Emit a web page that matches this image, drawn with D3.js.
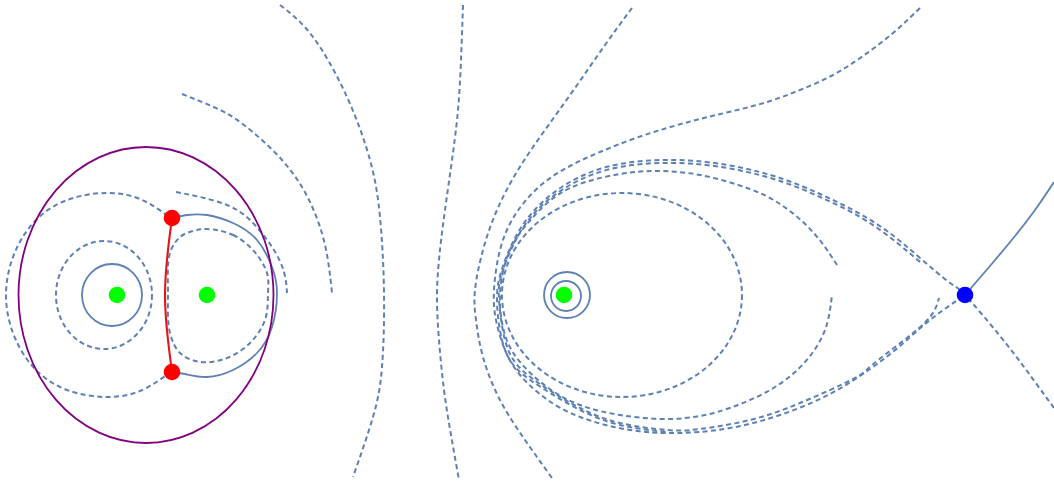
<!DOCTYPE html>
<html>
<head>
<meta charset="utf-8">
<script src="https://cdn.jsdelivr.net/npm/d3@7"></script>
<style>
  body { margin: 0; background: #fff; }
</style>
</head>
<body>
<div id="chart"></div>
<script>
// plot size, scales in model units (green body 1 at origin)
var w = 1054,
    h = 484,
    svg = d3.select("#chart").append("svg").attr("width", w).attr("height", h),
    x = d3.scaleLinear().domain([-1.17, 9.37]).range([0, w]),
    y = d3.scaleLinear().domain([-1.89, 2.95]).range([h, 0]);

// bodies and special points
var bodies = [[0, 0], [0.90, 0], [4.47, 0]];
var contactPoints = [[0.55, 0.77], [0.55, -0.77]];
var saddlePoint = [[8.48, 0]];

// closed level curves given as ellipses: [cx, cy, rx, ry]
var solidRings = [[-0.05, 0, 0.30, 0.31], [4.50, 0, 0.23, 0.23], [4.49, -0.01, 0.15, 0.15]];
var dashedRings = [[-0.13, 0, 0.48, 0.54], [5.05, 0, 1.20, 1.02]];
var boundaryRing = [[0.29, 0, 1.275, 1.48]];

// neck between the two contact points (red)
var neck = [[0.55, 0.77], [0.51, 0.45], [0.48, 0], [0.51, -0.45], [0.55, -0.77]];

// left lobe curves
var rightLobe = [[0.55, 0.77], [0.70, 0.80], [0.90, 0.80], [1.16, 0.72], [1.40, 0.55], [1.55, 0.28],
    [1.60, 0.02], [1.55, -0.32], [1.40, -0.58], [1.16, -0.75], [0.90, -0.82], [0.68, -0.79], [0.55, -0.77]];
var innerLobe = [[0.90, 0.66], [1.16, 0.60], [1.36, 0.45], [1.50, 0.22], [1.51, 0.02], [1.48, -0.25],
    [1.33, -0.48], [1.10, -0.63], [0.83, -0.67], [0.63, -0.58], [0.53, -0.38], [0.51, 0.02],
    [0.53, 0.42], [0.63, 0.58], [0.76, 0.64]];
var leftArc = [[0.51, 0.79], [0.23, 0.96], [-0.10, 1.02], [-0.47, 0.96], [-0.79, 0.77], [-1.02, 0.43],
    [-1.11, 0], [-1.02, -0.43], [-0.79, -0.77], [-0.47, -0.96], [-0.10, -1.02], [0.23, -0.96], [0.51, -0.79]];
var arc1 = [[0.59, 1.03], [0.83, 0.98], [1.10, 0.90], [1.33, 0.75], [1.55, 0.48], [1.67, 0.23], [1.70, 0.02]];
var arc2 = [[0.65, 2.01], [0.99, 1.87], [1.27, 1.70], [1.65, 1.35], [1.92, 0.95], [2.08, 0.50], [2.15, 0.02]];
var arc3 = [[1.63, 2.90], [1.96, 2.58], [2.30, 1.98], [2.53, 1.35], [2.63, 0.78], [2.67, 0.02],
    [2.65, -0.72], [2.56, -1.22], [2.36, -1.82]];
var arc4 = [[3.46, 2.90], [3.44, 2.35], [3.41, 1.85], [3.35, 1.35], [3.28, 0.85], [3.23, 0.45],
    [3.20, 0.02], [3.22, -0.45], [3.27, -0.95], [3.34, -1.40], [3.42, -1.85]];

// right side trajectories
var arc5 = [[5.15, 2.87], [4.88, 2.50], [4.58, 2.07], [4.28, 1.65], [4.01, 1.25], [3.80, 0.85],
    [3.66, 0.45], [3.58, 0.05], [3.59, -0.25], [3.66, -0.62], [3.83, -1.05], [4.08, -1.45], [4.35, -1.83]];
var spiral = [[7.20, 0.30], [7.05, 0.52], [6.86, 0.73], [6.63, 0.91], [6.33, 1.06], [5.83, 1.20],
    [5.40, 1.24], [5.03, 1.21], [4.53, 1.07], [4.18, 0.80], [3.93, 0.45], [3.83, 0], [3.88, -0.40],
    [4.03, -0.67], [4.30, -0.92], [4.63, -1.10], [5.03, -1.20], [5.50, -1.24], [6.00, -1.17],
    [6.53, -0.95], [6.88, -0.67], [7.08, -0.35], [7.15, 0]];
var traj1 = [[8.03, 2.87], [7.76, 2.62], [7.46, 2.39], [7.16, 2.20], [6.83, 2.05], [6.50, 1.93],
    [6.16, 1.84], [5.83, 1.76], [5.50, 1.67], [5.16, 1.56], [4.83, 1.43], [4.53, 1.29], [4.23, 1.09],
    [3.98, 0.80], [3.83, 0.45], [3.77, 0.05], [3.79, -0.25], [3.88, -0.55], [4.03, -0.80], [4.28, -1.03],
    [4.63, -1.22], [5.13, -1.35], [5.63, -1.38], [6.13, -1.33], [6.63, -1.20], [7.13, -0.99],
    [7.53, -0.74], [7.83, -0.51], [8.13, -0.25], [8.48, 0]];
var traj2 = [[8.03, 0.33], [7.70, 0.60], [7.36, 0.82], [7.03, 0.98], [6.66, 1.13], [6.16, 1.26],
    [5.60, 1.32], [5.03, 1.28], [4.53, 1.10], [4.10, 0.73], [3.86, 0.25], [3.82, -0.05], [3.88, -0.45],
    [4.03, -0.73], [4.32, -0.95], [4.65, -1.14], [5.03, -1.28], [5.50, -1.35], [5.83, -1.34],
    [6.33, -1.25], [6.83, -1.08], [7.36, -0.84], [7.55, -0.70], [7.86, -0.46], [8.13, -0.22], [8.22, -0.03]];
var traj3 = [[9.37, -1.13], [9.10, -0.76], [8.83, -0.41], [8.48, 0],
    [8.33, 0.12], [8.03, 0.37], [7.70, 0.64], [7.36, 0.85], [7.03, 1.01], [6.66, 1.16], [6.16, 1.29],
    [5.60, 1.35], [5.03, 1.31], [4.53, 1.13], [4.10, 0.76], [3.86, 0.29], [3.80, -0.05], [3.85, -0.45],
    [4.00, -0.74], [4.30, -0.96], [4.63, -1.15], [5.03, -1.30], [5.50, -1.37]];
var unstable = [[8.48, 0], [8.73, 0.29], [8.98, 0.59], [9.18, 0.85], [9.37, 1.13]];

var dashedOpen = [leftArc, arc1, arc2, arc3, arc4, arc5, spiral, traj1, traj2, traj3];
var dashedClosed = [innerLobe];
var solidOpen = [rightLobe, unstable];

var blue = "#5e81b5",
    dash = "5,3.4";

var line = d3.line()
    .x(function(d) { return x(d[0]); })
    .y(function(d) { return y(d[1]); })
    .curve(d3.curveNatural);
var closedLine = d3.line()
    .x(function(d) { return x(d[0]); })
    .y(function(d) { return y(d[1]); })
    .curve(d3.curveCatmullRomClosed);

svg.append("rect").attr("width", w).attr("height", h).attr("fill", "#fff");

function ring(g, data, color, width, dashed) {
    g.selectAll(null)
        .data(data)
        .enter()
        .append("ellipse")
        .attr("cx", function(d) { return x(d[0]); })
        .attr("cy", function(d) { return y(d[1]); })
        .attr("rx", function(d) { return x(d[0] + d[2]) - x(d[0]); })
        .attr("ry", function(d) { return y(d[1] - d[3]) - y(d[1]); })
        .attr("fill", "none")
        .attr("stroke", color)
        .attr("stroke-width", width)
        .attr("stroke-dasharray", dashed ? dash : null);
}

function paths(g, data, gen, dashed) {
    g.selectAll(null)
        .data(data)
        .enter()
        .append("path")
        .attr("d", gen)
        .attr("fill", "none")
        .attr("stroke", blue)
        .attr("stroke-width", dashed ? 2 : 1.8)
        .attr("stroke-dasharray", dashed ? dash : null);
}

var curves = svg.append("g");
paths(curves, dashedOpen, line, true);
paths(curves, dashedClosed, closedLine, true);
paths(curves, solidOpen, line, false);
ring(curves, dashedRings, blue, 2, true);
ring(curves, solidRings, blue, 1.8, false);

// purple boundary
ring(svg, boundaryRing, "#800080", 1.8, false);

// red neck
svg.append("path")
    .datum(neck)
    .attr("d", line)
    .attr("fill", "none")
    .attr("stroke", "#e8141b")
    .attr("stroke-width", 2.1);

function dots(data, color) {
    svg.selectAll(null)
        .data(data)
        .enter()
        .append("circle")
        .attr("cx", function(d) { return x(d[0]); })
        .attr("cy", function(d) { return y(d[1]); })
        .attr("r", 8.3)
        .attr("fill", color);
}

dots(bodies, "#00ff00");
dots(contactPoints, "#ff0000");
dots(saddlePoint, "#0000ff");
</script>
</body>
</html>
